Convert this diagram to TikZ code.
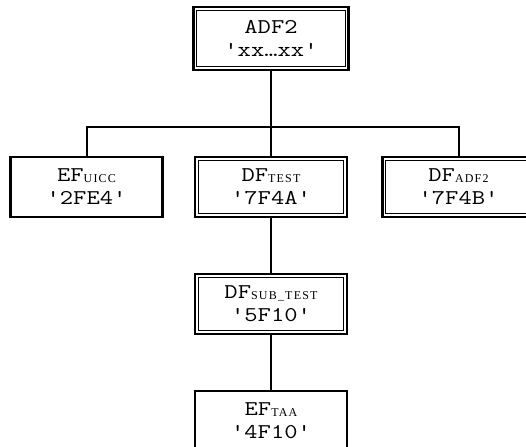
\documentclass[tikz,border=0pt]{standalone}
\usepackage{fontspec}
\setmonofont[FakeStretch=1.23]{Latin Modern Mono}
\newfontfamily\subf[LetterSpace=10]{Liberation Serif}
\newcommand\sbs[1]{{\subf\fontsize{12}{12}\selectfont\raisebox{-0.5pt}{#1}}}
\begin{document}
\begin{tikzpicture}[x=1pt,y=-1pt,
  filebox/.style={draw,line width=2.3pt,minimum width=152pt,minimum height=60pt,inner sep=0pt,
    align=center,font=\ttfamily\fontsize{21}{23}\selectfont},
  dfbox/.style={filebox,path picture={\draw[line width=1pt]
    ([shift={(3.3pt,-3.3pt)}]path picture bounding box.north west) rectangle
    ([shift={(-3.3pt,3.3pt)}]path picture bounding box.south east);}},
  conn/.style={line width=2pt}]
\useasboundingbox (0,0) rectangle (526,446);
\node[dfbox,minimum width=155pt,minimum height=63pt] (adf) at (271,38.5) {ADF2\\'xx…xx'};
\node[filebox] (uicc) at (86.5,187) {EF\sbs{UICC}\\'2FE4'};
\node[dfbox] (test) at (271,187) {DF\sbs{TEST}\\'7F4A'};
\node[dfbox] (dfadf) at (458.5,187) {DF\sbs{ADF2}\\'7F4B'};
\node[dfbox] (sub) at (271,304) {DF\sbs{SUB\_TEST}\\'5F10'};
\node[filebox] (taa) at (271,421) {EF\sbs{TAA}\\'4F10'};
\coordinate (bus) at (271,127);
\draw[conn] (adf.south) -- (bus);
\draw[conn] (uicc.north) |- (bus) -| (dfadf.north);
\draw[conn] (bus) -- (test.north);
\draw[conn] (test.south) -- (sub.north);
\draw[conn] (sub.south) -- (taa.north);
\end{tikzpicture}
\end{document}
